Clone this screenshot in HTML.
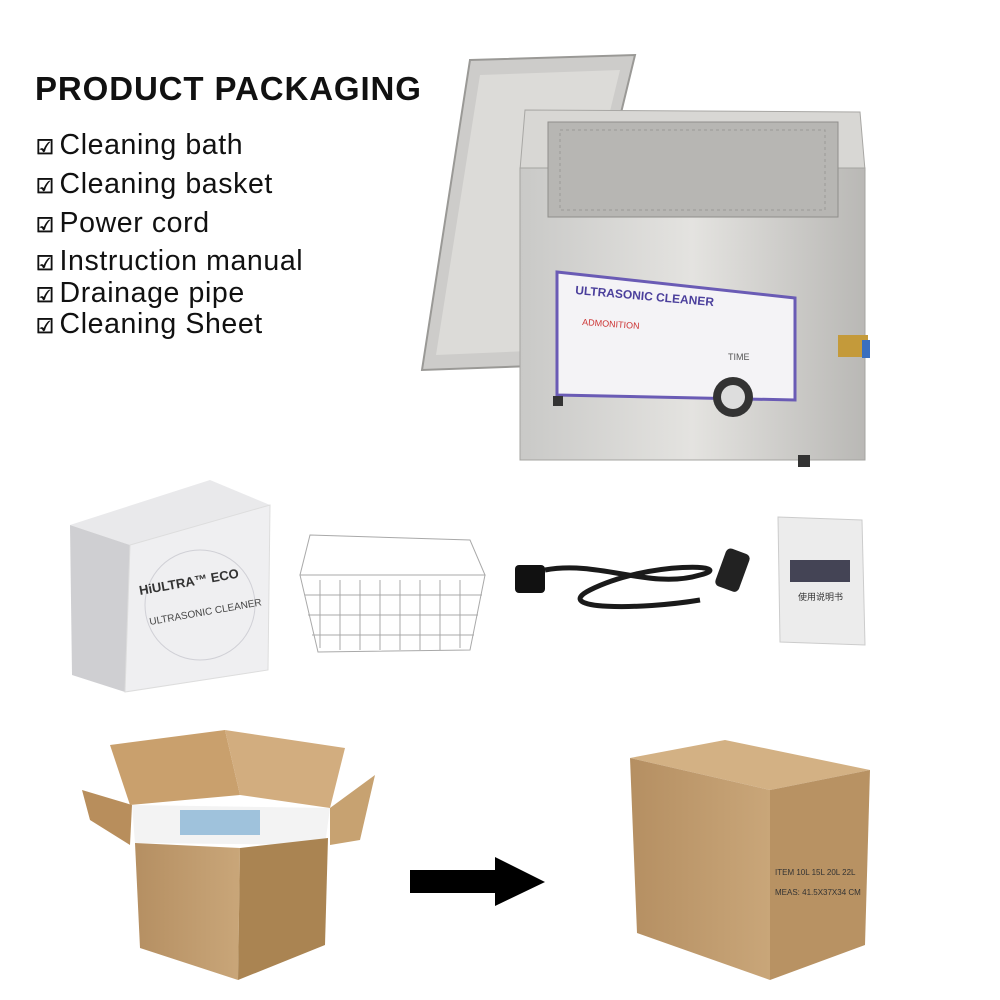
<!DOCTYPE html>
<html><head><meta charset="utf-8"><style>
html,body{margin:0;padding:0;background:#fff;}
body{width:1000px;height:1000px;position:relative;overflow:hidden;font-family:"Liberation Sans","Noto Sans CJK SC",sans-serif;}
.t{position:absolute;left:35px;top:70px;font-size:33px;font-weight:bold;color:#111;letter-spacing:0.9px}
.li{position:absolute;left:36px;font-size:28.5px;color:#111;white-space:nowrap;letter-spacing:0.6px}
.li span{font-size:20px;margin-right:5px;font-weight:bold}
svg{position:absolute;left:0;top:0}
</style></head><body>
<svg width="1000" height="1000" viewBox="0 0 1000 1000">
<defs>
<linearGradient id="steel" x1="0" x2="1"><stop offset="0" stop-color="#c9c9c7"/><stop offset="0.5" stop-color="#e4e3e0"/><stop offset="1" stop-color="#b9b8b5"/></linearGradient>
<linearGradient id="card" x1="0" x2="1"><stop offset="0" stop-color="#b58f62"/><stop offset="1" stop-color="#c9a679"/></linearGradient>
</defs>
<polygon points="470,60 635,55 560,365 422,370" fill="#cdccca" stroke="#9a9996" stroke-width="2"/>
<polygon points="480,75 620,70 552,350 436,355" fill="#dcdbd8"/>
<polygon points="525,110 860,112 865,170 520,170" fill="#d8d7d4" stroke="#a8a7a4"/>
<rect x="520" y="168" width="345" height="292" fill="url(#steel)" stroke="#a5a4a1"/>
<rect x="548" y="122" width="290" height="95" fill="#b7b6b3" stroke="#8f8e8b"/>
<rect x="560" y="130" width="265" height="80" fill="none" stroke="#9b9a97" stroke-dasharray="3 3"/>
<polygon points="557,272 795,298 795,400 557,395" fill="#f4f3f6" stroke="#6a5bb5" stroke-width="3"/>
<text x="575" y="294" font-size="12" font-weight="bold" fill="#4b3f9c" transform="rotate(5 575 294)">ULTRASONIC CLEANER</text>
<text x="582" y="325" font-size="9" fill="#c33" transform="rotate(4 582 325)">ADMONITION</text>
<circle cx="733" cy="397" r="20" fill="#333"/><circle cx="733" cy="397" r="12" fill="#ddd"/>
<text x="728" y="360" font-size="9" fill="#555">TIME</text>
<rect x="838" y="335" width="30" height="22" fill="#c49a3a"/><rect x="862" y="340" width="8" height="18" fill="#3a6fbf"/>
<rect x="798" y="455" width="12" height="12" fill="#333"/><rect x="553" y="396" width="10" height="10" fill="#333"/>
<polygon points="70,525 210,480 270,505 130,545" fill="#e9e9eb"/>
<polygon points="70,525 130,545 125,692 72,675" fill="#cfcfd2"/>
<polygon points="130,545 270,505 268,670 125,692" fill="#efeff1" stroke="#ddd"/>
<circle cx="200" cy="605" r="55" fill="none" stroke="#d0d0d6"/>
<text x="140" y="595" font-size="13" font-weight="bold" fill="#333" transform="rotate(-10 140 595)">HiULTRA™ ECO</text>
<text x="150" y="625" font-size="10" fill="#444" transform="rotate(-10 150 625)">ULTRASONIC CLEANER</text>
<g stroke="#a9a9a9" fill="none" stroke-width="1">
<polygon points="310,535 470,540 485,575 300,575"/>
<polygon points="300,575 485,575 470,650 318,652"/>
<path d="M320,580 V648 M340,580 V650 M360,580 V650 M380,580 V650 M400,580 V650 M420,580 V650 M440,580 V650 M460,580 V648 M305,595 H482 M308,615 H478 M312,635 H474"/>
</g>
<g fill="none" stroke="#1a1a1a" stroke-width="5">
<path d="M545,570 C600,560 650,590 700,575 C740,565 650,560 590,590 C550,610 640,610 700,600"/>
</g>
<rect x="515" y="565" width="30" height="28" rx="4" fill="#111"/>
<rect x="720" y="550" width="25" height="40" rx="5" fill="#222" transform="rotate(20 732 570)"/>
<polygon points="778,517 862,520 865,645 780,642" fill="#ececec" stroke="#ccc"/>
<rect x="790" y="560" width="60" height="22" fill="#445"/>
<text x="798" y="600" font-size="9" fill="#333">使用说明书</text>
<polygon points="110,745 225,730 240,795 130,805" fill="#c9a06d"/>
<polygon points="225,730 345,748 330,808 240,795" fill="#d2ad7f"/>
<polygon points="82,790 132,805 130,845 90,820" fill="#b88e5c"/>
<polygon points="330,808 375,775 360,840 330,845" fill="#c7a271"/>
<polygon points="132,805 330,808 325,845 135,843" fill="#f3f3f3"/>
<rect x="180" y="810" width="80" height="25" fill="#9fc2dc"/>
<polygon points="135,843 240,848 238,980 140,948" fill="url(#card)"/>
<polygon points="240,848 328,838 325,945 238,980" fill="#aa8452"/>
<polygon points="410,870 495,870 495,857 545,882 495,906 495,893 410,893" fill="#000"/>
<polygon points="630,758 725,740 870,770 770,790" fill="#d3b184"/>
<polygon points="630,758 770,790 770,980 637,933" fill="url(#card)"/>
<polygon points="770,790 870,770 865,945 770,980" fill="#b89263"/>
<text x="775" y="875" font-size="8" fill="#333">ITEM 10L 15L 20L 22L</text>
<text x="775" y="895" font-size="8" fill="#333">MEAS: 41.5X37X34 CM</text>
</svg>
<div class="t">PRODUCT PACKAGING</div>
<div class="li" style="top:129px"><span>☑</span>Cleaning bath</div>
<div class="li" style="top:168px"><span>☑</span>Cleaning basket</div>
<div class="li" style="top:207px"><span>☑</span>Power cord</div>
<div class="li" style="top:245px"><span>☑</span>Instruction manual</div>
<div class="li" style="top:277px"><span>☑</span>Drainage pipe</div>
<div class="li" style="top:308px"><span>☑</span>Cleaning Sheet</div>
</body></html>
